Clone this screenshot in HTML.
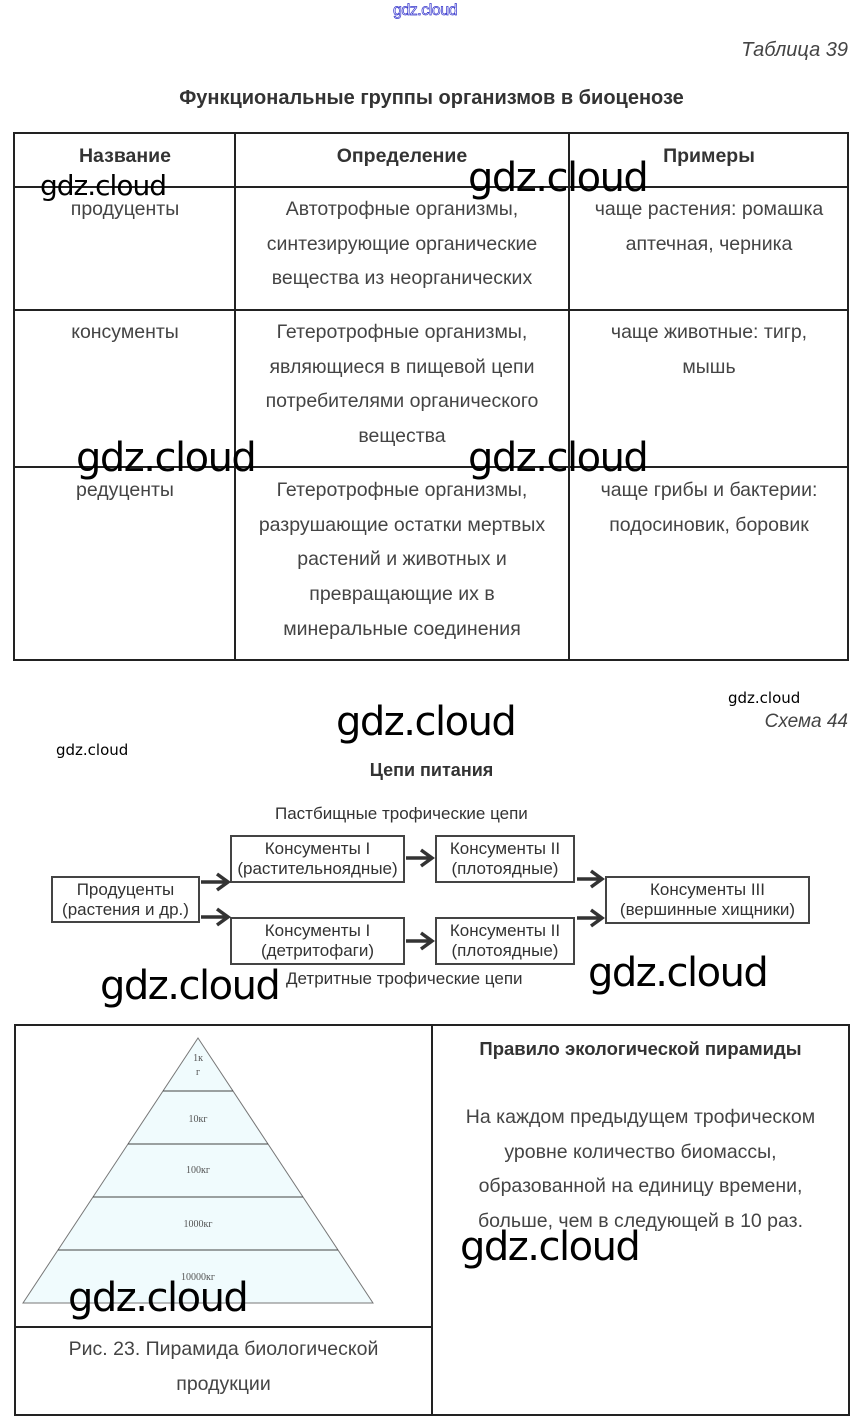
<!DOCTYPE html>
<html><head><meta charset="utf-8"><style>
body{margin:0;width:863px;height:1428px;background:#fff;position:relative;overflow:hidden;font-family:"Liberation Sans",sans-serif;}
.a{position:absolute;white-space:nowrap;}
.t{position:absolute;color:#444;font-size:19.5px;line-height:34.7px;text-align:center;white-space:nowrap;}
.h{position:absolute;color:#333;font-size:19.5px;font-weight:bold;text-align:center;}
.w{position:absolute;font-family:"DejaVu Sans","Liberation Sans",sans-serif;font-size:40px;color:#000;letter-spacing:-1.5px;white-space:nowrap;line-height:1;}
.ws{position:absolute;font-family:"DejaVu Sans",sans-serif;font-size:15px;color:#000;white-space:nowrap;}
.ln{position:absolute;background:#222;}
.bx{position:absolute;border:2px solid #444;box-sizing:border-box;text-align:center;font-family:"Liberation Sans Narrow","Liberation Sans",sans-serif;font-size:17px;line-height:20px;color:#333;padding-top:2px;}
.cl{position:absolute;font-family:"Liberation Sans Narrow","Liberation Sans",sans-serif;font-size:17px;color:#333;white-space:nowrap;}
</style></head><body>
<div class="a" style="left:393px;top:2px;font-size:16px;color:#fff;-webkit-text-stroke:0.7px #33c;letter-spacing:-0.5px;">gdz.cloud</div>
<div class="a" style="right:15px;top:39px;font-size:20px;font-style:italic;color:#444;">Таблица 39</div>
<div class="a" style="left:0;width:863px;text-align:center;top:87px;font-size:20px;font-weight:bold;color:#333;">Функциональные группы организмов в биоценозе</div>

<div class="ln" style="left:13px;top:132px;width:836px;height:2px"></div>
<div class="ln" style="left:13px;top:186px;width:836px;height:2px"></div>
<div class="ln" style="left:13px;top:309px;width:836px;height:2px"></div>
<div class="ln" style="left:13px;top:466px;width:836px;height:2px"></div>
<div class="ln" style="left:13px;top:659px;width:836px;height:2px"></div>
<div class="ln" style="left:13px;top:132px;width:2px;height:529px"></div>
<div class="ln" style="left:234px;top:132px;width:2px;height:529px"></div>
<div class="ln" style="left:568px;top:132px;width:2px;height:529px"></div>
<div class="ln" style="left:847px;top:132px;width:2px;height:529px"></div>

<div class="h" style="left:15px;width:220px;top:145px">Название</div>
<div class="h" style="left:236px;width:332px;top:145px">Определение</div>
<div class="h" style="left:570px;width:278px;top:145px">Примеры</div>

<div class="t" style="left:15px;width:220px;top:192px">продуценты</div>
<div class="t" style="left:236px;width:332px;top:192px">Автотрофные организмы,<br>синтезирующие органические<br>вещества из неорганических</div>
<div class="t" style="left:570px;width:278px;top:192px">чаще растения: ромашка<br>аптечная, черника</div>

<div class="t" style="left:15px;width:220px;top:315px">консументы</div>
<div class="t" style="left:236px;width:332px;top:315px">Гетеротрофные организмы,<br>являющиеся в пищевой цепи<br>потребителями органического<br>вещества</div>
<div class="t" style="left:570px;width:278px;top:315px">чаще животные: тигр,<br>мышь</div>

<div class="t" style="left:15px;width:220px;top:473px">редуценты</div>
<div class="t" style="left:236px;width:332px;top:473px">Гетеротрофные организмы,<br>разрушающие остатки мертвых<br>растений и животных и<br>превращающие их в<br>минеральные соединения</div>
<div class="t" style="left:570px;width:278px;top:473px">чаще грибы и бактерии:<br>подосиновик, боровик</div>

<div class="w" style="left:40px;top:172px;font-size:28px;letter-spacing:-1px">gdz.cloud</div>
<div class="w" style="left:468px;top:158px">gdz.cloud</div>
<div class="w" style="left:76px;top:438px">gdz.cloud</div>
<div class="w" style="left:468px;top:438px">gdz.cloud</div>

<div class="ws" style="left:728px;top:689px">gdz.cloud</div>
<div class="a" style="right:15px;top:711px;font-size:19px;font-style:italic;color:#444;">Схема 44</div>
<div class="w" style="left:336px;top:702px">gdz.cloud</div>
<div class="ws" style="left:56px;top:741px">gdz.cloud</div>
<div class="a" style="left:0;width:863px;text-align:center;top:760px;font-size:18px;font-weight:bold;color:#333;">Цепи питания</div>

<div class="cl" style="left:275px;top:804px">Пастбищные трофические цепи</div>
<div class="cl" style="left:286px;top:969px">Детритные трофические цепи</div>
<div class="bx" style="left:51px;top:876px;width:149px;height:47px">Продуценты<br>(растения и др.)</div>
<div class="bx" style="left:230px;top:835px;width:175px;height:48px">Консументы I<br>(растительноядные)</div>
<div class="bx" style="left:435px;top:835px;width:140px;height:48px">Консументы II<br>(плотоядные)</div>
<div class="bx" style="left:230px;top:917px;width:175px;height:48px">Консументы I<br>(детритофаги)</div>
<div class="bx" style="left:435px;top:917px;width:140px;height:48px">Консументы II<br>(плотоядные)</div>
<div class="bx" style="left:605px;top:876px;width:205px;height:48px">Консументы III<br>(вершинные хищники)</div>
<svg style="position:absolute;left:0;top:0" width="863" height="1428">
<g stroke="#333" stroke-width="3.5" fill="none">
<path d="M201 882 H226 M217 874 L228 882 L217 890"/>
<path d="M201 917 H226 M217 909 L228 917 L217 925"/>
<path d="M406 858 H430 M421 850 L432 858 L421 866"/>
<path d="M406 941 H430 M421 933 L432 941 L421 949"/>
<path d="M577 879 H600 M591 871 L602 879 L591 887"/>
<path d="M577 918 H600 M591 910 L602 918 L591 926"/>
</g>
<polygon points="198,1038 23,1303 373,1303" fill="#f0fbfd" stroke="#777" stroke-width="1"/>
<g stroke="#444" stroke-width="1">
<line x1="163" y1="1091" x2="233" y2="1091"/>
<line x1="128" y1="1144" x2="268" y2="1144"/>
<line x1="93" y1="1197" x2="303" y2="1197"/>
<line x1="58" y1="1250" x2="338" y2="1250"/>
</g>
<g font-family="Liberation Serif,serif" font-size="10" fill="#555" text-anchor="middle">
<text x="198" y="1061">1к</text><text x="198" y="1075">г</text>
<text x="198" y="1122">10кг</text>
<text x="198" y="1173">100кг</text>
<text x="198" y="1227">1000кг</text>
<text x="198" y="1280">10000кг</text>
</g>
</svg>

<div class="w" style="left:100px;top:966px">gdz.cloud</div>
<div class="w" style="left:588px;top:953px">gdz.cloud</div>

<div class="ln" style="left:14px;top:1024px;width:836px;height:2px"></div>
<div class="ln" style="left:14px;top:1414px;width:836px;height:2px"></div>
<div class="ln" style="left:14px;top:1024px;width:2px;height:392px"></div>
<div class="ln" style="left:431px;top:1024px;width:2px;height:392px"></div>
<div class="ln" style="left:848px;top:1024px;width:2px;height:392px"></div>
<div class="ln" style="left:14px;top:1326px;width:418px;height:2px"></div>
<div class="t" style="left:16px;width:415px;top:1332px">Рис. 23. Пирамида биологической<br>продукции</div>
<div class="h" style="left:433px;width:415px;top:1038px;font-size:18.5px">Правило экологической пирамиды</div>
<div class="t" style="left:433px;width:415px;top:1100px">На каждом предыдущем трофическом<br>уровне количество биомассы,<br>образованной на единицу времени,<br>больше, чем в следующей в 10 раз.</div>
<div class="w" style="left:460px;top:1227px">gdz.cloud</div>
<div class="w" style="left:68px;top:1278px">gdz.cloud</div>
</body></html>
